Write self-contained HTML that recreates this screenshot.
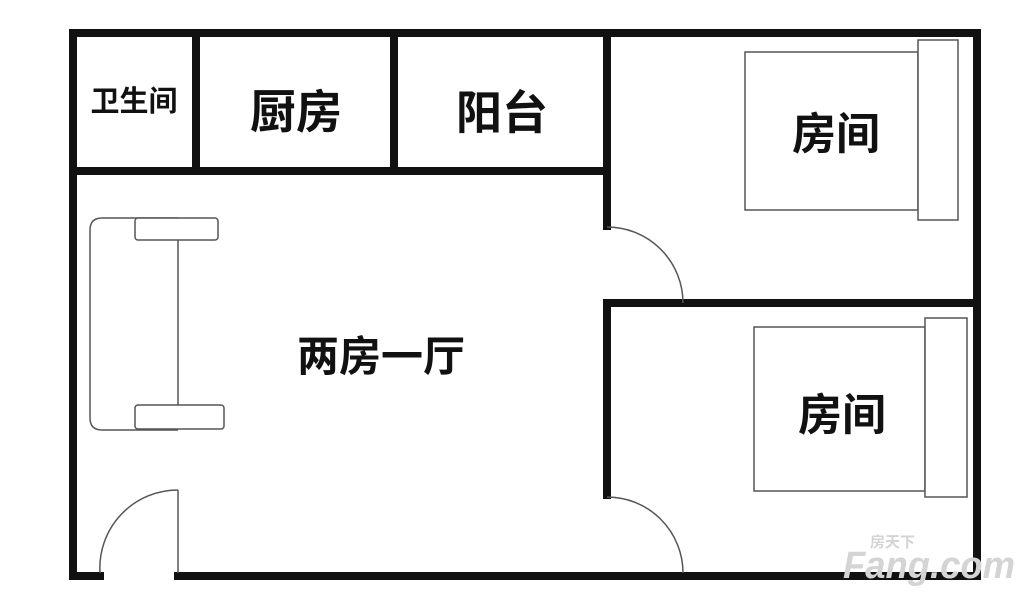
<!DOCTYPE html>
<html><head><meta charset="utf-8"><style>
html,body{margin:0;padding:0;background:#fff;}
svg{display:block}
text{font-family:"Liberation Sans","Noto Sans CJK SC",sans-serif;font-weight:bold;fill:#111;}
</style></head><body>
<svg width="1033" height="600" viewBox="0 0 1033 600" xmlns="http://www.w3.org/2000/svg">
<rect width="1033" height="600" fill="#fff"/>
<g stroke="#111" stroke-width="8" fill="none" stroke-linecap="square">
  <line x1="73" y1="33" x2="977" y2="33"/>
  <line x1="73" y1="33" x2="73" y2="576"/>
  <line x1="977" y1="33" x2="977" y2="576"/>
  <line x1="73" y1="576" x2="100" y2="576"/>
  <line x1="178" y1="576" x2="977" y2="576"/>
  <line x1="73" y1="171" x2="607" y2="171"/>
  <line x1="196" y1="33" x2="196" y2="171"/>
  <line x1="394" y1="33" x2="394" y2="171"/>
  <line x1="607" y1="33" x2="607" y2="226"/>
  <line x1="607" y1="303" x2="977" y2="303"/>
  <line x1="607" y1="303" x2="607" y2="495"/>
</g>
<g stroke="#555" stroke-width="1.5" fill="none">
  <path d="M607 227 A76 76 0 0 1 683 303"/>
  <path d="M607 497 A76 76 0 0 1 683 573"/>
  <line x1="178" y1="490" x2="178" y2="573"/>
  <path d="M178 490 A78 78 0 0 0 100 573"/>
  <path d="M178 218 H102 Q90 218 90 230 V418 Q90 430 102 430 H178"/>
  <line x1="178" y1="240" x2="178" y2="405"/>
  <rect x="135" y="218" width="83" height="22" rx="3" fill="#fff"/>
  <rect x="135" y="405" width="89" height="24" rx="3" fill="#fff"/>
  <rect x="745" y="52" width="173" height="158" fill="#fff"/>
  <rect x="918" y="40" width="40" height="180" fill="#fff"/>
  <rect x="754" y="327" width="171" height="164" fill="#fff"/>
  <rect x="925" y="318" width="42" height="179" fill="#fff"/>
</g>
<text x="134" y="111" font-size="29" text-anchor="middle">卫生间</text>
<text x="296" y="128" font-size="46" text-anchor="middle">厨房</text>
<text x="502" y="129" font-size="46" text-anchor="middle">阳台</text>
<text x="836" y="149" font-size="44" text-anchor="middle">房间</text>
<text x="842" y="430" font-size="44" text-anchor="middle">房间</text>
<text x="381" y="371" font-size="42" text-anchor="middle">两房一厅</text>
<text x="843" y="578" font-size="38" font-style="italic" textLength="172" lengthAdjust="spacingAndGlyphs" style="fill:#d4d4d4">Fang.com</text>
<text x="870" y="547" font-size="15" style="fill:#d4d4d4">房天下</text>
</svg>
</body></html>
